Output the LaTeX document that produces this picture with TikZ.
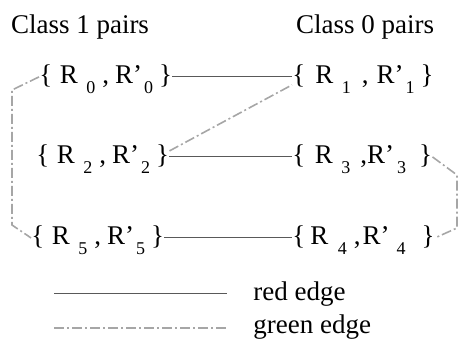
\documentclass[tikz,border=0pt]{standalone}
\usepackage{fontspec}
\setmainfont{Liberation Serif}
\newcommand\lsub[1]{\raisebox{-5pt}{\fontsize{9}{10}\selectfont #1}}
% digit, then six gaps: {-R, R-sub, sub-comma, comma-R, R'-sub, sub-}
\newcommand\prpair[7]{\{\hspace{#2}R\hspace{#3}\lsub{#1}\hspace{#4},\hspace{#5}R'\hspace{#6}\lsub{#1}\hspace{#7}\}}
\begin{document}
\begin{tikzpicture}[x=0.5pt,y=-0.5pt,
  txt/.style={font=\fontsize{13.5}{16}\selectfont, inner sep=0pt},
  pair/.style={txt, text height=9.4pt, text depth=3.3pt, anchor=base west},
  redge/.style={draw=black!65, line width=0.5pt},
  gedge/.style={draw=black!35, line width=0.8pt, dash pattern=on 5pt off 1.5pt on 1pt off 1.5pt}]
\useasboundingbox (0,0) rectangle (459,338);
\node[txt, anchor=base] (c1) at (80,33) {Class 1 pairs};
\node[txt, anchor=base] (c0) at (365,33) {Class 0 pairs};
\node[pair] (p0) at (39,83) {\prpair{0}{3.75pt}{4.25pt}{3.5pt}{3pt}{1pt}{3pt}};
\node[pair] (p1) at (292,83) {\prpair{1}{5pt}{4.25pt}{5.5pt}{4pt}{1pt}{3pt}};
\node[pair] (p2) at (36,163) {\prpair{2}{3.75pt}{4.25pt}{3.5pt}{3pt}{1pt}{3pt}};
\node[pair] (p3) at (292,163) {\prpair{3}{4.75pt}{4.25pt}{5pt}{0pt}{1.5pt}{6.5pt}};
\node[pair] (p5) at (31,244) {\prpair{5}{3.75pt}{4.25pt}{3.5pt}{3pt}{1pt}{3pt}};
\node[pair] (p4) at (292,244) {\prpair{4}{2.5pt}{4.75pt}{3.5pt}{1pt}{3.5pt}{8pt}};
\draw[redge] (p0.east) -- (p1.west);
\draw[redge] (p2.east) -- (p3.west);
\draw[redge] (p5.east) -- (p4.west);
\draw[gedge] ([yshift=3pt]p2.east) -- ([yshift=-4pt]p1.west);
\coordinate (l1) at (12,90);
\coordinate (l2) at (12,225);
\coordinate (r1) at (457,175);
\coordinate (r2) at (457,228);
\draw[gedge] (p0.west) -- (l1) -- (l2) -- (p5.west);
\draw[gedge] (p3.east) -- (r1) -- (r2) -- (p4.east);
\coordinate (a1) at (54,293);
\coordinate (a2) at (227,293);
\coordinate (b1) at (54,328);
\coordinate (b2) at (227,328);
\draw[redge] (a1) -- (a2);
\draw[gedge] (b1) -- (b2);
\node[txt, anchor=base west] (lr) at (253,300) {red edge};
\node[txt, anchor=base west] (lg) at (253,333) {green edge};
\end{tikzpicture}
\end{document}
